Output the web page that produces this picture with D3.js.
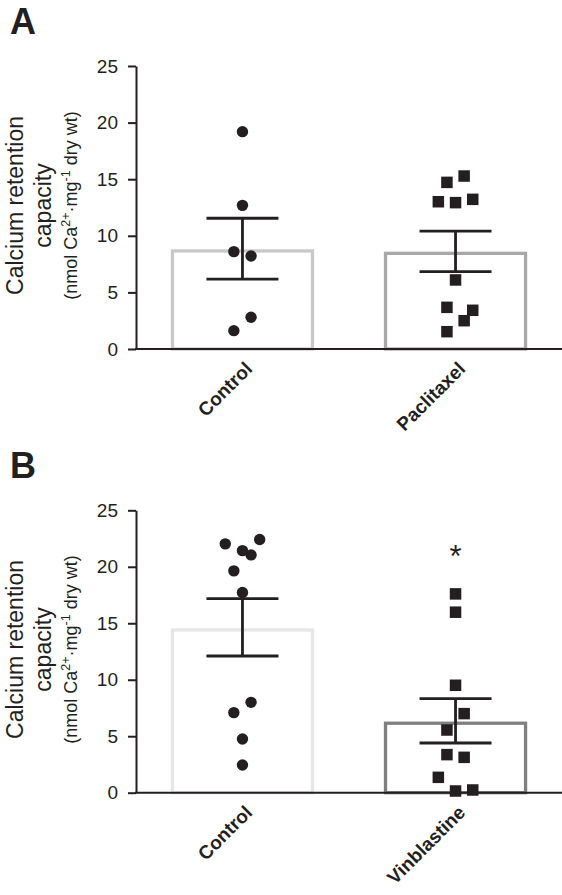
<!DOCTYPE html>
<html><head><meta charset="utf-8">
<script src="https://cdn.jsdelivr.net/npm/d3@7"></script>
<style>
html,body{margin:0;padding:0;background:#fff;}
svg{display:block;font-family:"Liberation Sans",Arial,Helvetica,sans-serif;}
</style></head>
<body>
<svg id="chart" width="562" height="895"></svg>
<script>
// ---------- data ----------
const yTicks = [0, 5, 10, 15, 20, 25];

const catsA = ["Control", "Paclitaxel"];
const meanA = [8.66, 8.45];
const semLowA = [6.18, 6.83];
const semHighA = [11.55, 10.42];
const controlA = [19.2, 12.69, 8.6, 8.21, 2.8, 1.62];
const controlALane = [0, 0, -1, 1, 1, -1];
const paclitaxel = [15.28, 14.72, 13.01, 12.93, 13.22, 6.1, 3.68, 3.42, 2.5, 1.53];
const paclitaxelLane = [1, -1, -2, 0, 2, 0, -1, 2, 1, -1];

const catsB = ["Control", "Vinblastine"];
const meanB = [14.41, 6.15];
const semLowB = [12.1, 4.4];
const semHighB = [17.18, 8.33];
const controlB = [22.03, 22.41, 21.43, 21.05, 19.64, 17.72, 8.0, 7.09, 4.76, 2.45];
const controlBLane = [-2, 2, 0, 1, -1, 0, 1, -1, 0, 0];
const vinblastine = [17.6, 15.98, 9.51, 7.0, 5.55, 3.37, 3.13, 1.36, 0.15, 0.24];
const vinblastineLane = [0, 0, 0, 1, -1, -1, 1, -2, 0, 2];
const significanceB = ["", "*"];

// ---------- styles ----------
const ink = "#231f20";
const barColorsA = ["#c8c8c8", "#a8a8a8"];
const barColorsB = ["#e6e6e6", "#808080"];

const svg = d3.select("#chart");

function panel(opts) {
  const { letter, top, bottom, cats, means, lo, hi, groups, lanes, colors, stars } = opts;
  const y = d3.scaleLinear().domain([0, 25]).range([bottom, top]);
  const x = d3.scaleBand().domain(cats).range([136, 562]).paddingInner(0.3427).paddingOuter(0.171);
  const laneW = 8.6;
  const g = svg.append("g");

  // panel letter
  g.append("text").attr("x", 10).attr("y", top - 32)
    .attr("font-size", 36).attr("font-weight", "bold").attr("fill", ink).text(letter);

  // bars
  g.selectAll("rect.bar").data(cats).join("rect")
    .attr("x", d => x(d)).attr("width", x.bandwidth())
    .attr("y", (d, i) => y(means[i])).attr("height", (d, i) => y(0) - y(means[i]))
    .attr("fill", "none").attr("stroke", (d, i) => colors[i]).attr("stroke-width", 3.3);

  // y axis
  const ax = g.append("g").attr("transform", "translate(136,0)")
    .call(d3.axisLeft(y).tickValues(yTicks).tickSize(8).tickSizeOuter(0).tickPadding(10));
  ax.select(".domain").attr("stroke", ink).attr("stroke-width", 2);
  ax.selectAll(".tick line").attr("stroke", ink).attr("stroke-width", 2);
  ax.selectAll(".tick text").attr("fill", ink).attr("font-size", 19)
    .attr("font-family", "'Liberation Sans',Arial,sans-serif");

  // x axis line
  g.append("line").attr("x1", 135).attr("x2", 562).attr("y1", y(0)).attr("y2", y(0))
    .attr("stroke", ink).attr("stroke-width", 2);

  // points
  groups.forEach((vals, gi) => {
    const cx = x(cats[gi]) + x.bandwidth() / 2;
    const pts = vals.map((v, k) => ({ v, lane: lanes[gi][k] }));
    if (gi === 0) {
      g.selectAll(null).data(pts).join("circle")
        .attr("cx", d => cx + d.lane * laneW).attr("cy", d => y(d.v)).attr("r", 5.7).attr("fill", ink);
    } else {
      const s = 11.5;
      g.selectAll(null).data(pts).join("rect")
        .attr("x", d => cx + d.lane * laneW - s / 2).attr("y", d => y(d.v) - s / 2)
        .attr("width", s).attr("height", s).attr("fill", ink);
    }
    if (stars[gi]) {
      g.append("text").attr("x", cx).attr("y", y(d3.max(vals)) - 27)
        .attr("text-anchor", "middle").attr("font-size", 31).attr("fill", ink).text(stars[gi]);
    }
  });

  // error bars
  cats.forEach((c, i) => {
    const cx = x(c) + x.bandwidth() / 2;
    const eb = g.append("g").attr("stroke", ink).attr("stroke-width", 2.8);
    eb.append("line").attr("x1", cx).attr("x2", cx).attr("y1", y(lo[i])).attr("y2", y(hi[i]));
    [lo[i], hi[i]].forEach(v => {
      eb.append("line").attr("x1", cx - 36).attr("x2", cx + 36).attr("y1", y(v)).attr("y2", y(v));
    });
  });

  // x labels
  cats.forEach((c, i) => {
    const cx = x(c) + x.bandwidth() / 2;
    g.append("text").attr("transform", `translate(${cx + 11},${y(0) + 21}) rotate(-45)`)
      .attr("text-anchor", "end").attr("font-size", 19).attr("font-weight", "bold")
      .attr("fill", ink).text(c);
  });

  // y label
  const cy = (top + bottom) / 2 - 2;
  g.append("text").attr("transform", `translate(22.5,${cy}) rotate(-90)`)
    .attr("text-anchor", "middle").attr("font-size", 23).attr("fill", ink).text("Calcium retention");
  g.append("text").attr("transform", `translate(51,${cy}) rotate(-90)`)
    .attr("text-anchor", "middle").attr("font-size", 23).attr("fill", ink).text("capacity");
  const small = g.append("text").attr("transform", `translate(77,${cy}) rotate(-90)`)
    .attr("text-anchor", "middle").attr("font-size", 18).attr("fill", ink);
  small.append("tspan").text("(nmol Ca");
  small.append("tspan").attr("dy", -7).attr("font-size", 12.5).text("2+");
  small.append("tspan").attr("dy", 7).text("·mg");
  small.append("tspan").attr("dy", -7).attr("font-size", 12.5).text("-1");
  small.append("tspan").attr("dy", 7).text(" dry wt)");
}

panel({ letter: "A", top: 66, bottom: 349, cats: catsA, means: meanA, lo: semLowA, hi: semHighA,
  groups: [controlA, paclitaxel], lanes: [controlALane, paclitaxelLane], colors: barColorsA, stars: ["", ""] });
panel({ letter: "B", top: 510.3, bottom: 792.7, cats: catsB, means: meanB, lo: semLowB, hi: semHighB,
  groups: [controlB, vinblastine], lanes: [controlBLane, vinblastineLane], colors: barColorsB, stars: significanceB });
</script>
</body></html>
